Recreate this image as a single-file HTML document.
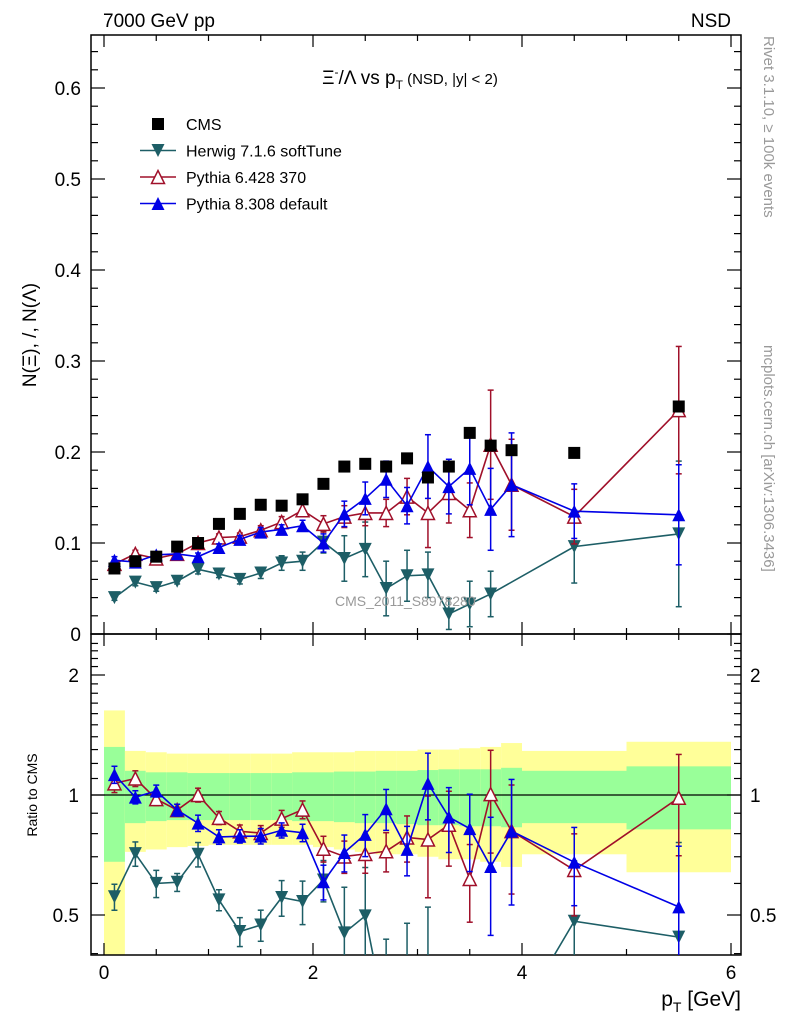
<!DOCTYPE html>
<html><head><meta charset="utf-8"><style>
html,body{margin:0;padding:0;background:#fff;width:786px;height:1024px;overflow:hidden;}
svg{display:block;font-family:"Liberation Sans","DejaVu Sans",sans-serif;}
</style></head><body>
<svg id="chart" width="786" height="1024" viewBox="0 0 786 1024" xmlns="http://www.w3.org/2000/svg">
<g id="bands"></g>
<g id="axes"></g>
<g id="series"></g>
<text x="103" y="27" font-size="19">7000 GeV pp</text>
<text x="731" y="27" font-size="19" text-anchor="end">NSD</text>
<text x="410" y="84" font-size="19" text-anchor="middle">Ξ<tspan font-size="12" dy="-8">-</tspan><tspan dy="8">/Λ  vs p</tspan><tspan font-size="12" dy="5">T</tspan><tspan font-size="15" dy="-5"> (NSD, |y| &lt; 2)</tspan></text>
<text x="335" y="606" font-size="14" fill="#999">CMS_2011_S8978280</text>
<text transform="translate(36,335) rotate(-90)" font-size="19" text-anchor="middle">N(Ξ), /, N(Λ)</text>
<text transform="translate(37,795) rotate(-90)" font-size="14" text-anchor="middle">Ratio to CMS</text>
<text x="741" y="1006" font-size="21" text-anchor="end">p<tspan font-size="14" dy="6">T</tspan><tspan dy="-6"> [GeV]</tspan></text>
<text transform="translate(764,36) rotate(90)" font-size="15" fill="#999">Rivet 3.1.10, ≥ 100k events</text>
<text transform="translate(764,345) rotate(90)" font-size="15" fill="#999">mcplots.cern.ch [arXiv:1306.3436]</text>
<g id="legend"></g>
</svg>
<script>
var xVals=[0.1,0.3,0.5,0.7,0.9,1.1,1.3,1.5,1.7,1.9,2.1,2.3,2.5,2.7,2.9,3.1,3.3,3.5,3.7,3.9,4.5,5.5];
var binLo=[0,0.2,0.4,0.6,0.8,1.0,1.2,1.4,1.6,1.8,2.0,2.2,2.4,2.6,2.8,3.0,3.2,3.4,3.6,3.8,4,5];
var binHi=[0.2,0.4,0.6,0.8,1.0,1.2,1.4,1.6,1.8,2.0,2.2,2.4,2.6,2.8,3.0,3.2,3.4,3.6,3.8,4.0,5,6];
var cmsVals=[0.072,0.080,0.085,0.096,0.100,0.121,0.132,0.142,0.141,0.148,0.165,0.184,0.187,0.184,0.193,0.172,0.184,0.221,0.207,0.202,0.199,0.250];
var herwigVals=[0.040,0.057,0.051,0.058,0.071,0.066,0.060,0.067,0.078,0.080,0.101,0.083,0.093,0.050,0.064,0.065,0.022,0.033,0.044,null,0.096,0.110];
var herwigErr=[0.003,0.004,0.004,0.003,0.005,0.004,0.005,0.006,0.008,0.010,0.012,0.025,0.030,0.030,0.028,0.025,0.017,0.025,0.025,0,0.040,0.080];
var py6Vals=[0.077,0.088,0.083,0.088,0.100,0.106,0.107,0.114,0.123,0.136,0.121,0.129,0.133,0.133,0.151,0.133,0.155,0.136,0.208,0.164,0.129,0.246];
var py6Err=[0.004,0.004,0.003,0.003,0.004,0.004,0.004,0.005,0.006,0.007,0.009,0.012,0.014,0.015,0.020,0.038,0.033,0.030,0.060,0.050,0.030,0.070];
var py8Vals=[0.081,0.079,0.087,0.088,0.085,0.095,0.104,0.112,0.115,0.119,0.100,0.132,0.149,0.170,0.141,0.184,0.162,0.182,0.137,0.164,0.135,0.131];
var py8Err=[0.004,0.003,0.003,0.003,0.004,0.004,0.004,0.005,0.005,0.006,0.010,0.014,0.018,0.020,0.020,0.035,0.030,0.040,0.045,0.057,0.030,0.055];
var yellowHi=[1.63,1.29,1.28,1.27,1.27,1.27,1.27,1.27,1.27,1.28,1.28,1.28,1.29,1.29,1.29,1.30,1.30,1.31,1.32,1.35,1.29,1.36];
var yellowLo=[0.30,0.72,0.73,0.74,0.745,0.75,0.75,0.75,0.75,0.75,0.74,0.73,0.72,0.71,0.71,0.70,0.69,0.69,0.68,0.66,0.71,0.64];
var greenHi=[1.32,1.15,1.14,1.14,1.135,1.135,1.135,1.135,1.135,1.14,1.14,1.145,1.145,1.15,1.15,1.155,1.16,1.16,1.16,1.17,1.15,1.18];
var greenLo=[0.68,0.85,0.86,0.865,0.865,0.865,0.865,0.865,0.865,0.86,0.86,0.855,0.85,0.85,0.845,0.84,0.84,0.835,0.835,0.83,0.85,0.82];
var xTickLabels=["0","2","4","6"];
var yTickLabels=["0","0.1","0.2","0.3","0.4","0.5","0.6"];
var rTickLabels=["0.5","1","2"];

var NS="http://www.w3.org/2000/svg";
var L=91,R=741,T=35,M=634,B=955;
function X(v){return 104+v*104.5;}
function Y(v){return 634-v*910;}
function RY(r){return 795-120*Math.log(r)/Math.LN2;}
function mk(tag,attrs,parent){var e=document.createElementNS(NS,tag);for(var k in attrs)e.setAttribute(k,attrs[k]);parent.appendChild(e);return e;}
var bands=document.getElementById('bands'),axes=document.getElementById('axes'),series=document.getElementById('series'),legend=document.getElementById('legend');

for(var i=0;i<binLo.length;i++){
  var x1=X(binLo[i]),x2=X(binHi[i]);
  var yt=Math.max(RY(yellowHi[i]),M),yb=Math.min(RY(yellowLo[i]),B);
  var yb1=mk('rect',{x:x1,y:yt,width:x2-x1,height:yb-yt,fill:'#ffff99'},bands);
  
  
  var gt=RY(greenHi[i]),gb=RY(greenLo[i]);
  var g1=mk('rect',{x:x1,y:gt,width:x2-x1,height:gb-gt,fill:'#99ff99'},bands);
  
  
}
var f1=mk('rect',{x:L,y:T,width:R-L,height:M-T,fill:'none',stroke:'#000','stroke-width':1.5},axes);


var f2=mk('rect',{x:L,y:M,width:R-L,height:B-M,fill:'none',stroke:'#000','stroke-width':1.5},axes);


var one=mk('line',{x1:L,x2:R,y1:RY(1),y2:RY(1),stroke:'#000','stroke-width':1.3},axes);


for(var t=0;t<=12;t++){
  var v=t*0.5,x=X(v),len=(t%4==0)?12:6;
  if(x>R)continue;
  [[M,-1],[T,1],[B,-1],[M,1]].forEach(function(p){mk('line',{x1:x,x2:x,y1:p[0],y2:p[0]+p[1]*len,stroke:'#000','stroke-width':1.2},axes);});
}
for(var i=0;i<xTickLabels.length;i++){
  var tl=mk('text',{x:X(i*2),y:979,'font-size':19,'text-anchor':'middle'},axes);tl.textContent=xTickLabels[i];
  
  
}
for(var k=0;k<=32;k++){
  var v=k*0.02,y=Y(v);if(y<T)continue;var len=(k%5==0)?14:7;
  mk('line',{x1:L,x2:L+len,y1:y,y2:y,stroke:'#000','stroke-width':1.2},axes);
  mk('line',{x1:R,x2:R-len,y1:y,y2:y,stroke:'#000','stroke-width':1.2},axes);
}
for(var i=0;i<yTickLabels.length;i++){
  var tl=mk('text',{x:81,y:Y(i*0.1)+7,'font-size':19,'text-anchor':'end'},axes);tl.textContent=yTickLabels[i];
  
  
}
var rt=[0.4,0.5,0.6,0.7,0.8,0.9,1,2];
for(var f=1.1;f<2.5;f+=0.1){if(Math.abs(f-2)>0.01)rt.push(f);}
rt.forEach(function(r){var y=RY(r);if(y<M||y>B)return;var maj=(r==0.5||r==1||r==2),len=maj?14:7;
  mk('line',{x1:L,x2:L+len,y1:y,y2:y,stroke:'#000','stroke-width':1.2},axes);
  mk('line',{x1:R,x2:R-len,y1:y,y2:y,stroke:'#000','stroke-width':1.2},axes);});
[0.5,1,2].forEach(function(r,i){
  var a=mk('text',{x:79,y:RY(r)+7,'font-size':19,'text-anchor':'end'},axes);a.textContent=rTickLabels[i];
  
  
  var b=mk('text',{x:750,y:RY(r)+7,'font-size':19},axes);b.textContent=rTickLabels[i];
  
  
});

function marker(kind,x,y,col,g){
  var s=6.5,e;
  if(kind=='sq')e=mk('rect',{x:x-6,y:y-6,width:12,height:12,fill:'#000'},g);
  else if(kind=='down')e=mk('polygon',{points:(x-s)+','+(y-s)+' '+(x+s)+','+(y-s)+' '+x+','+(y+s),fill:col},g);
  else if(kind=='up')e=mk('polygon',{points:(x-s)+','+(y+s)+' '+(x+s)+','+(y+s)+' '+x+','+(y-s),fill:col},g);
  else e=mk('polygon',{points:(x-s)+','+(y+s)+' '+(x+s)+','+(y+s)+' '+x+','+(y-s),fill:'#fff',stroke:col,'stroke-width':1.5},g);
  return e;
}
function drawSeries(name,vals,errs,col,kind){
  var g=mk('g',{},series);
  
  
  var cp=mk('clipPath',{id:'clipU'+name},g);mk('rect',{x:L,y:T,width:R-L,height:M-T},cp);
  var cp2=mk('clipPath',{id:'clipR'+name},g);mk('rect',{x:L,y:M,width:R-L,height:B-M},cp2);
  var gu=mk('g',{'clip-path':'url(#clipU'+name+')'},g),gr=mk('g',{'clip-path':'url(#clipR'+name+')'},g);
  var pu=[],pr=[];
  for(var i=0;i<xVals.length;i++){if(vals[i]==null)continue;
    pu.push(X(xVals[i])+','+Y(vals[i]));pr.push(X(xVals[i])+','+RY(vals[i]/cmsVals[i]));}
  var l1=mk('polyline',{points:pu.join(' '),fill:'none',stroke:col,'stroke-width':1.6},gu);
  
  
  var l2=mk('polyline',{points:pr.join(' '),fill:'none',stroke:col,'stroke-width':1.6},gr);
  
  
  for(var i=0;i<xVals.length;i++){if(vals[i]==null)continue;
    var x=X(xVals[i]),v=vals[i],e=errs[i],c=cmsVals[i];
    [[gu,Y(v+e),Y(Math.max(v-e,0.0001))],[gr,RY((v+e)/c),RY(Math.max(v-e,0.001)/c)]].forEach(function(p){
      if(Math.abs(p[2]-p[1])>3){
        mk('line',{x1:x,x2:x,y1:p[1],y2:p[2],stroke:col,'stroke-width':1.5},p[0]);
        mk('line',{x1:x-3,x2:x+3,y1:p[1],y2:p[1],stroke:col,'stroke-width':1.5},p[0]);
        mk('line',{x1:x-3,x2:x+3,y1:p[2],y2:p[2],stroke:col,'stroke-width':1.5},p[0]);}
    });
    var m1=marker(kind,x,Y(v),col,gu);
    
    
    var m2=marker(kind,x,RY(v/c),col,gr);
    
    
  }
}
drawSeries('herwig',herwigVals,herwigErr,'#1d5e66','down');
drawSeries('pythia6',py6Vals,py6Err,'#a0102a','open');
drawSeries('pythia8',py8Vals,py8Err,'#0000e6','up');
var cg=mk('g',{},series);


for(var i=0;i<xVals.length;i++){
  var m=marker('sq',X(xVals[i]),Y(cmsVals[i]),'#000',cg);
  
  
}
var ents=[['CMS','sq','#000'],['Herwig 7.1.6 softTune','down','#1d5e66'],['Pythia 6.428 370','open','#a0102a'],['Pythia 8.308 default','up','#0000e6']];
ents.forEach(function(en,i){
  var y=124+i*26.5;
  var g=mk('g',{},legend);
  
  
  if(i>0)mk('line',{x1:140,x2:176,y1:y,y2:y,stroke:en[2],'stroke-width':1.6},g);
  marker(en[1],158,y,en[2],g);
  var t=mk('text',{x:186,y:y+6,'font-size':16},g);t.textContent=en[0];
});
</script>
</body></html>
